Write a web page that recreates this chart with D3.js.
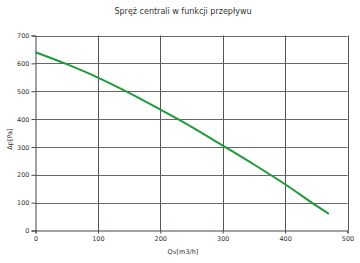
<!DOCTYPE html>
<html lang="pl">
<head>
<meta charset="utf-8">
<title>spręż</title>
<script src="https://d3js.org/d3.v7.min.js"></script>
<style>
  body { margin: 0; background: #fff; }
  text { font-family: "DejaVu Sans", sans-serif; fill: #333; }
</style>
</head>
<body>
<svg width="360" height="263"></svg>
<script>
var qv = [0, 50, 100, 150, 200, 250, 300, 350, 400, 450, 470];
var dp = [640, 597, 549, 494, 434, 372, 305, 237, 166, 89, 60];
var xTicks = [0, 100, 200, 300, 400, 500];
var yTicks = [0, 100, 200, 300, 400, 500, 600, 700];

var svg = d3.select("svg");
var x = d3.scaleLinear().domain([0, 500]).range([35.5, 347.5]);
var y = d3.scaleLinear().domain([0, 700]).range([230.5, 35.5]);

// siatka
svg.append("g").selectAll("line")
  .data(xTicks.slice(1))
  .enter().append("line")
  .attr("x1", d => Math.round(x(d)) + 0.5).attr("x2", d => Math.round(x(d)) + 0.5)
  .attr("y1", y(700)).attr("y2", y(0))
  .attr("stroke", "#555").attr("stroke-width", 1);

svg.append("g").selectAll("line")
  .data(yTicks.slice(1))
  .enter().append("line")
  .attr("x1", x(0)).attr("x2", x(500))
  .attr("y1", d => Math.round(y(d)) + 0.5).attr("y2", d => Math.round(y(d)) + 0.5)
  .attr("stroke", "#666").attr("stroke-width", 1);

// osie
var xAxis = svg.append("g").attr("transform", "translate(0," + y(0) + ")")
  .call(d3.axisBottom(x).tickValues(xTicks).tickSize(3).tickPadding(3));
var yAxis = svg.append("g").attr("transform", "translate(" + x(0) + ",0)")
  .call(d3.axisLeft(y).tickValues(yTicks).tickSize(4).tickPadding(2));
[xAxis, yAxis].forEach(function(a) {
  a.select(".domain").attr("stroke", "#444");
  a.selectAll(".tick line").attr("stroke", "#444");
  a.selectAll("text").style("font-size", "6.5px").style("font-family", "DejaVu Sans, sans-serif").attr("fill", "#444");
});

// krzywa
var line = d3.line().x((d, i) => x(qv[i])).y(d => y(d)).curve(d3.curveMonotoneX);
svg.append("path")
  .attr("d", line(dp))
  .attr("fill", "none")
  .attr("stroke", "#1e9a3a")
  .attr("stroke-width", 2);

// opisy
svg.append("text").attr("x", 183).attr("y", 14).attr("text-anchor", "middle")
  .style("font-size", "8px").text("Spręż centrali w funkcji przepływu");
svg.append("text").attr("x", 183).attr("y", 254).attr("text-anchor", "middle")
  .style("font-size", "6.5px").text("Qv[m3/h]");
svg.append("text").attr("transform", "translate(12,139) rotate(-90)").attr("text-anchor", "middle")
  .style("font-size", "6.5px").text("Δp[Pa]");
</script>
</body>
</html>
